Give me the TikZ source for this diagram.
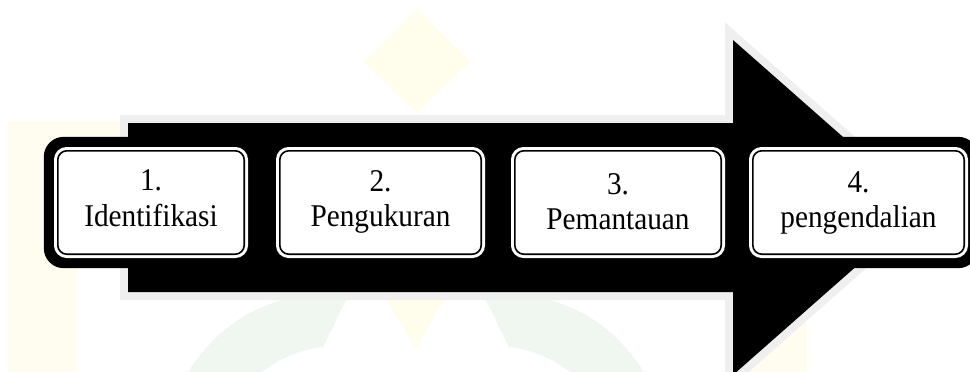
\documentclass[tikz,border=0pt]{standalone}
\usepackage{fontspec}
\setmainfont{Liberation Serif}[Ligatures=NoCommon]
\usepackage{graphicx}

\definecolor{halo}{RGB}{239,239,239}
\definecolor{wmyellow}{RGB}{255,253,236}
\definecolor{wmbeige}{RGB}{255,252,240}
\definecolor{wmgreen}{RGB}{240,247,241}

\pgfdeclarelayer{background}
\pgfsetlayers{background,main}

\tikzset{
  stepbox/.style={rectangle, rounded corners=9pt, fill=white, draw=white,
    line width=3pt, double=black, double distance=1.6pt,
    inner sep=0pt, outer sep=0pt, minimum height=103.4pt},
  bandbg/.style={fill=black, rounded corners=20pt},
  steptext/.style={anchor=base, inner sep=0pt,
    font=\fontsize{29.3}{35}\selectfont},
}
\newcommand{\tallword}[1]{\scalebox{1}[1.08]{#1}}

\begin{document}
\begin{tikzpicture}[x=1pt, y=-1pt]
\useasboundingbox (0,0) rectangle (970,372);

\begin{pgfonlayer}{background}
% faint emblem in the background
\fill[wmyellow] (417,8) -- (470,62) -- (417,113) -- (363,62) -- cycle;
\fill[wmbeige] (8,121) -- (120,121) -- (120,267) -- (78,267) -- (78,372) -- (8,372) -- cycle;
\fill[wmbeige] (740,323) rectangle (807,372);
\fill[wmgreen] (188,372) .. controls (215,330) and (250,308) .. (283,300)
  -- (346,300) -- (323,347) .. controls (300,350) and (280,358) .. (262,372) -- cycle;
\fill[wmgreen] (644,372) .. controls (617,330) and (582,308) .. (549,300)
  -- (486,300) -- (509,347) .. controls (532,350) and (552,358) .. (570,372) -- cycle;
\fill[wmyellow] (386,300) -- (443,300) -- (416,350) -- cycle;

% the big arrow with its light halo
\fill[black, preaction={draw=halo, line width=16pt, line join=miter}]
  (128,123) -- (733,123) -- (733,40) -- (923,207.5) -- (733,375)
  -- (733,292) -- (128,292) -- cycle;
\end{pgfonlayer}

% step boxes
\node[stepbox, minimum width=186.4pt] (b1) at (151,202.5) {};
\node[stepbox, minimum width=201.4pt] (b2) at (380.5,202.5) {};
\node[stepbox, minimum width=206.4pt] (b3) at (618,202.5) {};
\node[stepbox, minimum width=211.4pt] (b4) at (858.5,202.5) {};

% black rounded backing behind each box
\begin{pgfonlayer}{background}
\foreach \b in {b1,b2,b3,b4}{
  \fill[bandbg] ([shift={(-14,-14)}]\b.north west) rectangle ([shift={(14,14)}]\b.south east);
}
\end{pgfonlayer}

% labels
\node[steptext] (t1a) at (151,190.7) {\tallword{1.}};
\node[steptext] (t1b) at (151,226.7) {\tallword{Identifikasi}};
\node[steptext] (t2a) at (380.5,191) {\tallword{2.}};
\node[steptext] (t2b) at (380.5,226.5) {\tallword{Pengukuran}};
\node[steptext] (t3a) at (618,194) {\tallword{3.}};
\node[steptext] (t3b) at (618,229) {\tallword{Pemantauan}};
\node[steptext] (t4a) at (858.5,192) {\tallword{4.}};
\node[steptext] (t4b) at (858.5,227) {\tallword{pengendalian}};
\end{tikzpicture}
\end{document}
